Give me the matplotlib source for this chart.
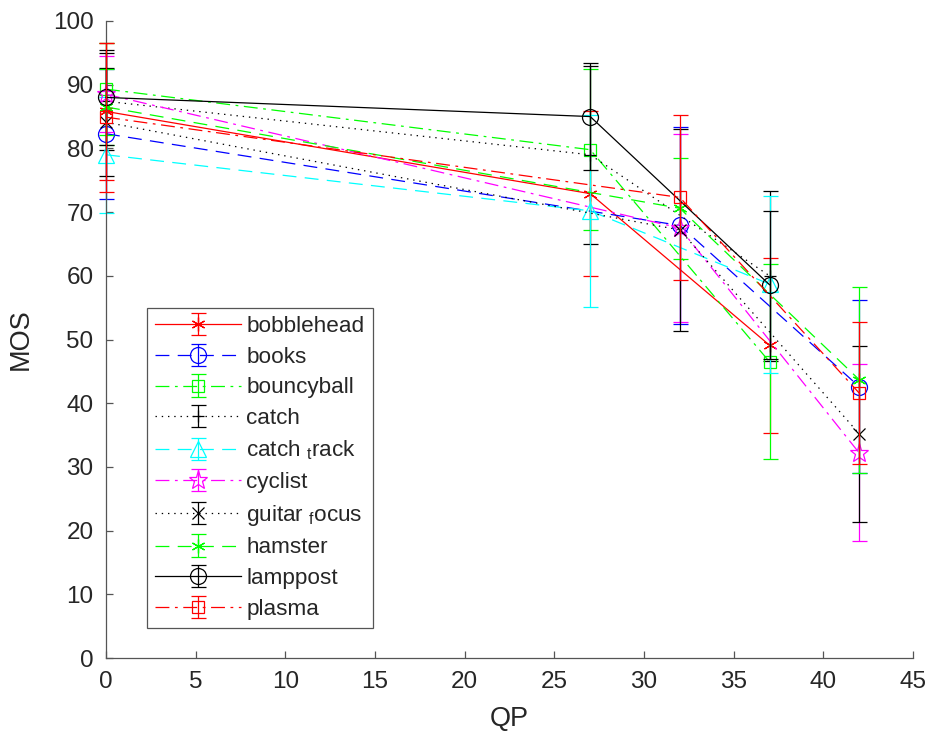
import matplotlib
matplotlib.use("Agg")
import matplotlib.pyplot as plt

plt.rcParams['font.family'] = ['Liberation Sans', 'DejaVu Sans']
plt.rcParams['mathtext.fontset'] = 'custom'
plt.rcParams['mathtext.rm'] = 'Liberation Sans'
plt.rcParams['mathtext.it'] = 'Liberation Sans'
plt.rcParams['lines.scale_dashes'] = False

TEXT = "#262626"
AXIS = "#555555"

# --- data (QP, MOS, +/- error) ---
LABELS = ["bobblehead", "books", "bouncyball", "catch", r"catch $_\mathrm{t}$rack",
          "cyclist", r"guitar $_\mathrm{f}$ocus", "hamster", "lamppost", "plasma"]

QP_BOBBLEHEAD = [0, 27, 37]
MOS_BOBBLEHEAD = [85.8, 72.9, 49.1]
ERR_BOBBLEHEAD = [10.7, 12.9, 13.7]

QP_BOOKS = [0, 32, 42]
MOS_BOOKS = [82.3, 67.9, 42.6]
ERR_BOOKS = [10.2, 15.5, 13.6]

QP_BOUNCYBALL = [0, 27, 37]
MOS_BOUNCYBALL = [89.3, 79.8, 46.5]
ERR_BOUNCYBALL = [7.2, 12.6, 15.3]

QP_CATCH = [0, 27, 37]
MOS_CATCH = [87.4, 79.0, 60.0]
ERR_CATCH = [7.6, 14.0, 13.3]

QP_CATCH_TRACK = [0, 27, 37]
MOS_CATCH_TRACK = [79.0, 70.2, 58.7]
ERR_CATCH_TRACK = [9.1, 15.1, 13.9]

QP_CYCLIST = [0, 32, 42]
MOS_CYCLIST = [88.5, 67.5, 32.2]
ERR_CYCLIST = [6.0, 14.8, 13.9]

QP_GUITAR = [0, 32, 42]
MOS_GUITAR = [84.1, 67.2, 35.2]
ERR_GUITAR = [8.5, 15.8, 13.8]

QP_HAMSTER = [0, 32, 42]
MOS_HAMSTER = [86.5, 70.6, 43.7]
ERR_HAMSTER = [6.0, 7.9, 14.6]

QP_LAMPPOST = [0, 27, 37]
MOS_LAMPPOST = [88.0, 85.0, 58.6]
ERR_LAMPPOST = [7.5, 8.4, 11.6]

QP_PLASMA = [0, 32, 42]
MOS_PLASMA = [84.9, 72.3, 41.6]
ERR_PLASMA = [11.7, 12.9, 11.2]

DASHED = (0, (10, 6))
DASHDOT = (0, (10, 4, 2, 4))
DOTTED = (0, (1, 3.5))
ASTERISK = (6, 2, 0)

# (x, y, err, colour, linestyle, marker, marker size)
series = [
    (QP_BOBBLEHEAD, MOS_BOBBLEHEAD, ERR_BOBBLEHEAD, "#FF0000", "-", ASTERISK, 10),
    (QP_BOOKS, MOS_BOOKS, ERR_BOOKS, "#0000FF", DASHED, "o", 11.5),
    (QP_BOUNCYBALL, MOS_BOUNCYBALL, ERR_BOUNCYBALL, "#00FF00", DASHDOT, "s", 9),
    (QP_CATCH, MOS_CATCH, ERR_CATCH, "#000000", DOTTED, "+", 9),
    (QP_CATCH_TRACK, MOS_CATCH_TRACK, ERR_CATCH_TRACK, "#00FFFF", DASHED, "^", 12),
    (QP_CYCLIST, MOS_CYCLIST, ERR_CYCLIST, "#FF00FF", DASHDOT, "*", 14),
    (QP_GUITAR, MOS_GUITAR, ERR_GUITAR, "#000000", DOTTED, "x", 8.5),
    (QP_HAMSTER, MOS_HAMSTER, ERR_HAMSTER, "#00FF00", DASHED, ASTERISK, 10),
    (QP_LAMPPOST, MOS_LAMPPOST, ERR_LAMPPOST, "#000000", "-", "o", 11.5),
    (QP_PLASMA, MOS_PLASMA, ERR_PLASMA, "#FF0000", DASHDOT, "s", 9),
]

fig = plt.figure(figsize=(9.3, 7.34), dpi=100)
ax = fig.add_axes([0.114, 0.1035, 0.8677, 0.8679])

for i, (x, y, e, c, ls, mk, ms) in enumerate(series):
    cont = ax.errorbar(x, y, yerr=e, color=c, ecolor=c, linestyle=ls, linewidth=0.9,
                       elinewidth=0.9, capsize=5.4, capthick=0.9,
                       marker=mk, markersize=ms, markerfacecolor='none',
                       markeredgecolor=c, markeredgewidth=0.9,
                       label=LABELS[i], zorder=2 + i * 0.1)
    for art in cont.get_children():
        art.set_clip_on(False)

ax.set_xlim(0, 45)
ax.set_ylim(0, 100)
ax.set_xticks(range(0, 46, 5))
ax.set_yticks(range(0, 101, 10))
ax.tick_params(direction='in', length=5, width=0.9, colors=AXIS, labelcolor=TEXT,
               labelsize=17.5)
ax.tick_params(axis='y', pad=9)
ax.tick_params(axis='x', pad=9)
for s in ['top', 'right']:
    ax.spines[s].set_visible(False)
for s in ['left', 'bottom']:
    ax.spines[s].set_color(AXIS)
    ax.spines[s].set_linewidth(0.9)

ax.set_xlabel("QP", fontsize=19.5, color=TEXT, labelpad=10)
ax.set_ylabel("MOS", fontsize=19.5, color=TEXT, labelpad=14)

leg = ax.legend(loc='lower left', bbox_to_anchor=(0.0508, 0.047), borderaxespad=0,
                fontsize=16.2, handlelength=3.8, handletextpad=0.25, labelspacing=0.43,
                borderpad=0.37, fancybox=False, framealpha=1, edgecolor=AXIS)
leg.get_frame().set_linewidth(0.9)
for t in leg.get_texts():
    t.set_color(TEXT)

fig.savefig("out.png", dpi=100, facecolor='white')
